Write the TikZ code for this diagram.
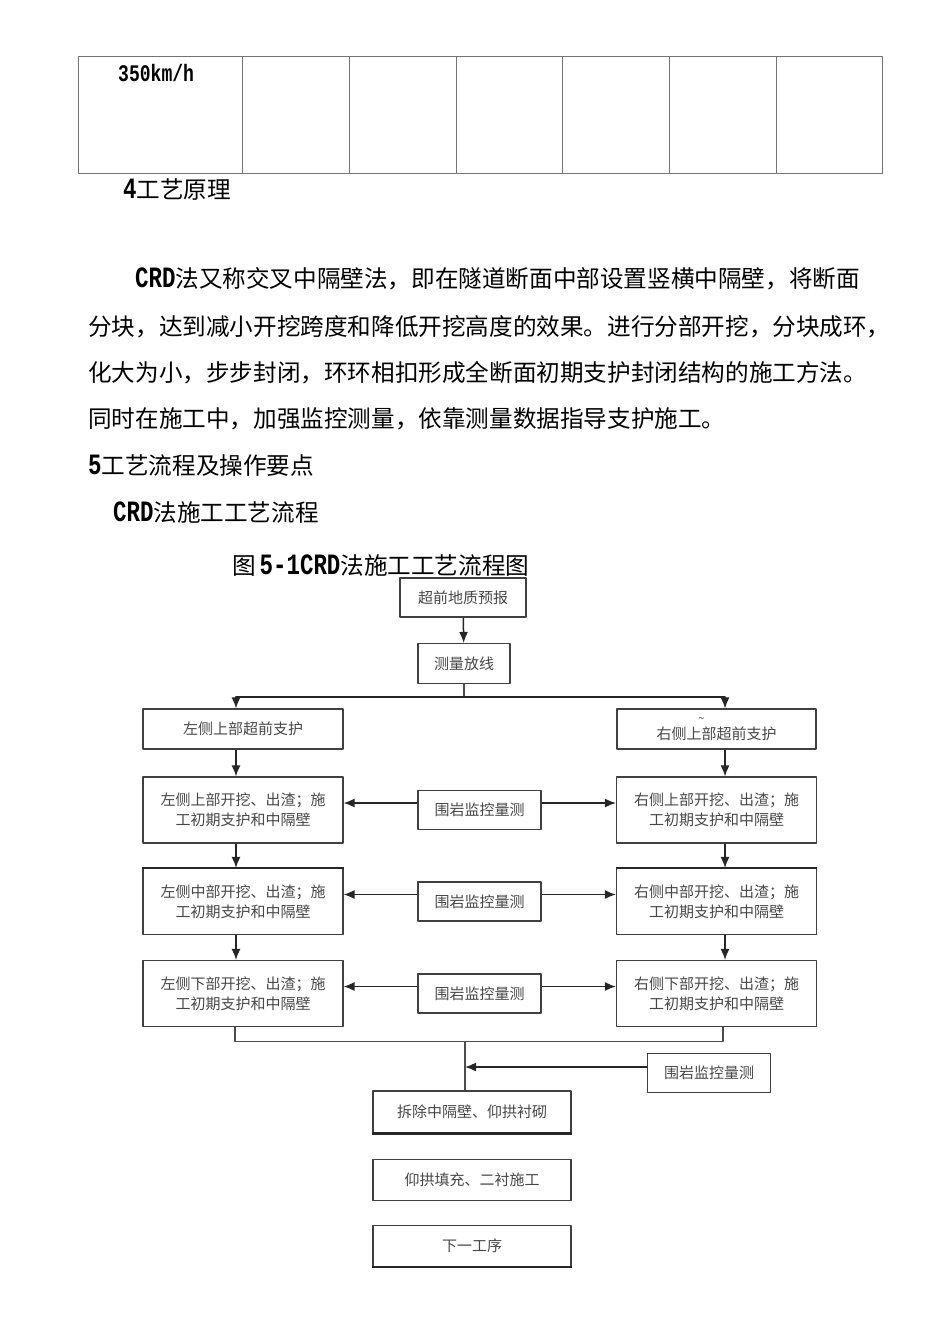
\documentclass[tikz,border=0pt]{standalone}
\usepackage{graphicx}
\usepackage{fontspec}
\setmainfont{Noto Sans CJK SC}
\newfontfamily\latfont{Liberation Mono}
\newcommand{\ltn}[1]{\scalebox{0.95}[1.25]{\latfont\bfseries #1}}
\usetikzlibrary{arrows.meta}

\begin{document}
\begin{tikzpicture}[x=1pt,y=-1pt,join=round, % CRD flow chart
        txt/.style={anchor=west,inner sep=0pt,font=\fontsize{23.6}{28}\selectfont},
        box/.style={draw=black!75,line width=1.1pt,text=black!72,inner sep=0pt,
                align=center,font=\fontsize{15}{20}\selectfont},
        sbox/.style={box,minimum width=200pt,minimum height=66pt},
        mbox/.style={box,minimum width=123pt,minimum height=39pt},
        bbox/.style={box,minimum width=198pt,minimum height=41pt},
        arr/.style={draw=black!85,line width=1.5pt,-{Latex[length=11pt,width=9pt]}},
        ln/.style={draw=black!70,line width=1.1pt},
        thk/.style={draw=black!85,line width=2.4pt}]
        \useasboundingbox (0,0) rectangle (950,1344);
        % table
        \draw[black!55,line width=0.9pt] (78,56) rectangle (882,173);
        \foreach \x in {242,349,456,562,669,776}
                \draw[black!55,line width=0.8pt] (\x,56) -- (\x,173);
        \node[anchor=west,inner sep=0pt] (spd) at (118,73) {\fontsize{19}{20}\selectfont\ltn{350km/h}};
        % text
        \node[txt] (h4) at (123,190) {\ltn{4}工艺原理};
        \node[txt] (p1) at (135,279) {\ltn{CRD}法又称交叉中隔壁法，即在隧道断面中部设置竖横中隔壁，将断面};
        \node[txt] (p2) at (88,327) {分块，达到减小开挖跨度和降低开挖高度的效果。进行分部开挖，分块成环，};
        \node[txt] (p3) at (88,373) {化大为小，步步封闭，环环相扣形成全断面初期支护封闭结构的施工方法。};
        \node[txt] (p4) at (88,419) {同时在施工中，加强监控测量，依靠测量数据指导支护施工。};
        \node[txt] (h5) at (88,466) {\ltn{5}工艺流程及操作要点};
        \node[txt] (h51) at (113,513) {\ltn{CRD}法施工工艺流程};
        \node[txt] (cap) at (232,566) {图\,\ltn{5-1CRD}法施工工艺流程图};
        % boxes
        \node[box,minimum width=126pt,minimum height=39pt] (geo) at (463,597.5) {超前地质预报};
        \node[box,minimum width=92pt,minimum height=40pt] (svy) at (464,663.5) {测量放线};
        \node[box,minimum width=200pt,minimum height=40pt] (lsup) at (243,729) {左侧上部超前支护};
        \node[box,minimum width=199pt,minimum height=40pt] (rsup) at (716.5,729)
                {\makebox[0pt]{\hspace*{-30pt}\fontsize{11}{8}\selectfont\textasciitilde}\\[-3pt]右侧上部超前支护};
        \node[sbox] (lup) at (243,810) {左侧上部开挖、出渣；施\\工初期支护和中隔壁};
        \node[sbox] (rup) at (716.5,810) {右侧上部开挖、出渣；施\\工初期支护和中隔壁};
        \node[sbox] (lmid) at (243,901.5) {左侧中部开挖、出渣；施\\工初期支护和中隔壁};
        \node[sbox] (rmid) at (716.5,901.5) {右侧中部开挖、出渣；施\\工初期支护和中隔壁};
        \node[sbox] (llow) at (243,993.5) {左侧下部开挖、出渣；施\\工初期支护和中隔壁};
        \node[sbox] (rlow) at (716.5,993.5) {右侧下部开挖、出渣；施\\工初期支护和中隔壁};
        \node[mbox] (mon1) at (479.5,810) {围岩监控量测};
        \node[mbox] (mon2) at (479.5,901.5) {围岩监控量测};
        \node[mbox] (mon3) at (479.5,993.5) {围岩监控量测};
        \node[mbox] (mon4) at (709,1073) {围岩监控量测};
        \node[bbox,minimum height=42pt] (rem) at (472,1112) {拆除中隔壁、仰拱衬砌};
        \node[bbox] (fil) at (472,1180) {仰拱填充、二衬施工};
        \node[bbox] (nxt) at (472,1246) {下一工序};
        % connectors
        \draw[arr] (geo) -- (svy);
        \draw[ln] (svy.south) -- ++(0,13) coordinate (spl);
        \draw[arr] (spl) -| ([xshift=-7pt]lsup.north);
        \draw[arr] (spl) -| ([xshift=8.5pt]rsup.north);
        \foreach \a/\b in {lsup/lup,lup/lmid,lmid/llow}
                \draw[arr] ([xshift=-7pt]\a.south) -- ([xshift=-7pt]\b.north);
        \foreach \a/\b in {rsup/rup,rup/rmid,rmid/rlow}
                \draw[arr] ([xshift=8.5pt]\a.south) -- ([xshift=8.5pt]\b.north);
        \foreach \m/\l/\r in {mon1/lup/rup,mon2/lmid/rmid,mon3/llow/rlow}{
                \draw[arr] ([yshift=7pt]\m.west) -- ([yshift=7pt]\l.east);
                \draw[arr] ([yshift=7pt]\m.east) -- ([yshift=7pt]\r.west);
        }
        \draw[ln] ([xshift=-8pt]llow.south) -- ++(0,14) coordinate (mL) -| ([xshift=6.5pt]rlow.south);
        \coordinate (jn) at ([xshift=-7pt]rem.north);
        \draw[ln] (jn |- mL) -- (jn);
        \coordinate (mw) at ([yshift=6pt]mon4.west);
        \draw[arr] (mw) -- (mw -| jn);
        % heavier edges
        \draw[thk] (lmid.north west) -- (lmid.north east);
        \draw[thk] (rmid.north west) -- (rmid.north east);
        \draw[thk] (rem.south west) -- (rem.south east);
        \draw[thk] (nxt.south west) -- (nxt.south east);
\end{tikzpicture}
\end{document}
